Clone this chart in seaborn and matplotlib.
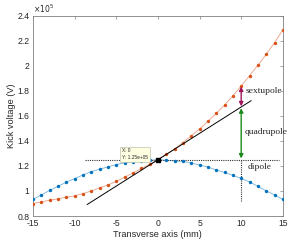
import numpy as np
import pandas as pd
import matplotlib
matplotlib.use("Agg")
import matplotlib.pyplot as plt
import seaborn as sns

# Data (values in units of 1e5 V)
x_mm = list(range(-15, 16))
blue_kick = [0.933, 0.968, 1.004, 1.037, 1.070, 1.099, 1.128, 1.155, 1.174, 1.193,
             1.211, 1.225, 1.235, 1.241, 1.246, 1.250,
             1.246, 1.241, 1.237, 1.223, 1.209, 1.191, 1.169, 1.148, 1.125, 1.100,
             1.073, 1.037, 1.002, 0.968, 0.933]
orange_kick = [0.900, 0.913, 0.926, 0.938, 0.950, 0.961, 0.979, 1.000, 1.024, 1.048,
               1.076, 1.110, 1.144, 1.180, 1.214, 1.250,
               1.293, 1.336, 1.387, 1.440, 1.496, 1.557, 1.620, 1.688, 1.760, 1.840,
               1.922, 2.005, 2.093, 2.186, 2.288]
tangent_x = [-8.5, 11.2]
tangent_slope = 0.0422
dipole_level = 1.25
eval_x = 10
x_ticks = [-15, -10, -5, 0, 5, 10, 15]
y_ticks = [0.8, 1.0, 1.2, 1.4, 1.6, 1.8, 2.0, 2.2, 2.4]
labels = ["sextupole", "quadrupole", "dipole"]

df = pd.DataFrame({"x": x_mm, "blue": blue_kick, "orange": orange_kick})

sns.set_style("white")
plt.rcParams['font.family'] = ['Liberation Sans', 'DejaVu Sans']

fig = plt.figure(figsize=(2.99, 2.49), dpi=100)
ax = fig.add_axes([0.110, 0.1325, 0.836, 0.8035])

blue_c = "#0072BD"
orange_c = "#D95319"

for col, c in (("orange", orange_c), ("blue", blue_c)):
    sns.lineplot(data=df, x="x", y=col, ax=ax, color=c, linewidth=0.6, alpha=0.55)
    sns.scatterplot(data=df, x="x", y=col, ax=ax, color=c, s=6, linewidth=0, zorder=3)

# tangent line
tx = np.array(tangent_x)
ax.plot(tx, dipole_level + tangent_slope * tx, color="black", linewidth=0.7, zorder=3)

# dotted dipole level and vertical guide
ax.plot([-8.7, 14.5], [dipole_level, dipole_level], color="#333333", linestyle=(0, (1, 1)),
        linewidth=0.8, zorder=2)
ax.plot([eval_x, eval_x], [dipole_level, 0.92], color="#333333", linestyle=(0, (1, 1)),
        linewidth=0.8, zorder=2)

quad_level = dipole_level + tangent_slope * eval_x
sext_level = orange_kick[x_mm.index(eval_x)]

ax.annotate("", xy=(eval_x, dipole_level + 0.01), xytext=(eval_x, quad_level - 0.01),
            arrowprops=dict(arrowstyle="<|-|>", color="#1b8a1b", lw=1.0,
                            mutation_scale=6, shrinkA=0, shrinkB=0), zorder=4)
ax.annotate("", xy=(eval_x, quad_level + 0.005), xytext=(eval_x, sext_level - 0.005),
            arrowprops=dict(arrowstyle="<|-|>", color="#a0165e", lw=1.0,
                            mutation_scale=6, shrinkA=0, shrinkB=0), zorder=4)

serif = ['Liberation Serif', 'DejaVu Serif']
ax.text(10.5, 1.80, labels[0], family=serif, fontsize=6.8, va="center", ha="left")
ax.text(10.4, 1.47, labels[1], family=serif, fontsize=6.8, va="center", ha="left")
ax.text(10.8, 1.19, labels[2], family=serif, fontsize=6.8, va="center", ha="left")

# datatip
ax.plot([0], [dipole_level], marker="s", color="black", markersize=3, zorder=6)
ax.text(-4.3, 1.34, "X: 0\nY: 1.25e+05", fontsize=3.4, va="top", ha="left",
        linespacing=1.5, zorder=7,
        bbox=dict(boxstyle="square,pad=0.4", fc="#ffffe1", ec="#b0b0a0", lw=0.4))

ax.set_xlim(-15, 15)
ax.set_ylim(0.8, 2.4)
ax.set_xticks(x_ticks)
ax.set_yticks(y_ticks)
ax.set_xticklabels([f"{v:g}" for v in x_ticks])
ax.set_yticklabels([f"{v:g}" for v in y_ticks])
ax.tick_params(direction="in", length=2.5, width=0.5, labelsize=6.2,
               top=True, right=True, pad=2.5)
ax.tick_params(axis="x", colors="#808080", labelcolor="#262626")
ax.tick_params(axis="y", colors="#808080", labelcolor="#262626")
for s in ax.spines.values():
    s.set_color("#808080")
    s.set_linewidth(0.6)
    s.set_visible(True)

ax.set_xlabel("Transverse axis (mm)", fontsize=6.6, color="#262626", labelpad=1)
ax.set_ylabel("Kick voltage (V)", fontsize=6.6, color="#262626", labelpad=1)
ax.text(0.0, 1.005, r"$\times10^5$", transform=ax.transAxes, fontsize=5.5,
        ha="left", va="bottom", color="#262626")

fig.savefig("out.png", dpi=100)
